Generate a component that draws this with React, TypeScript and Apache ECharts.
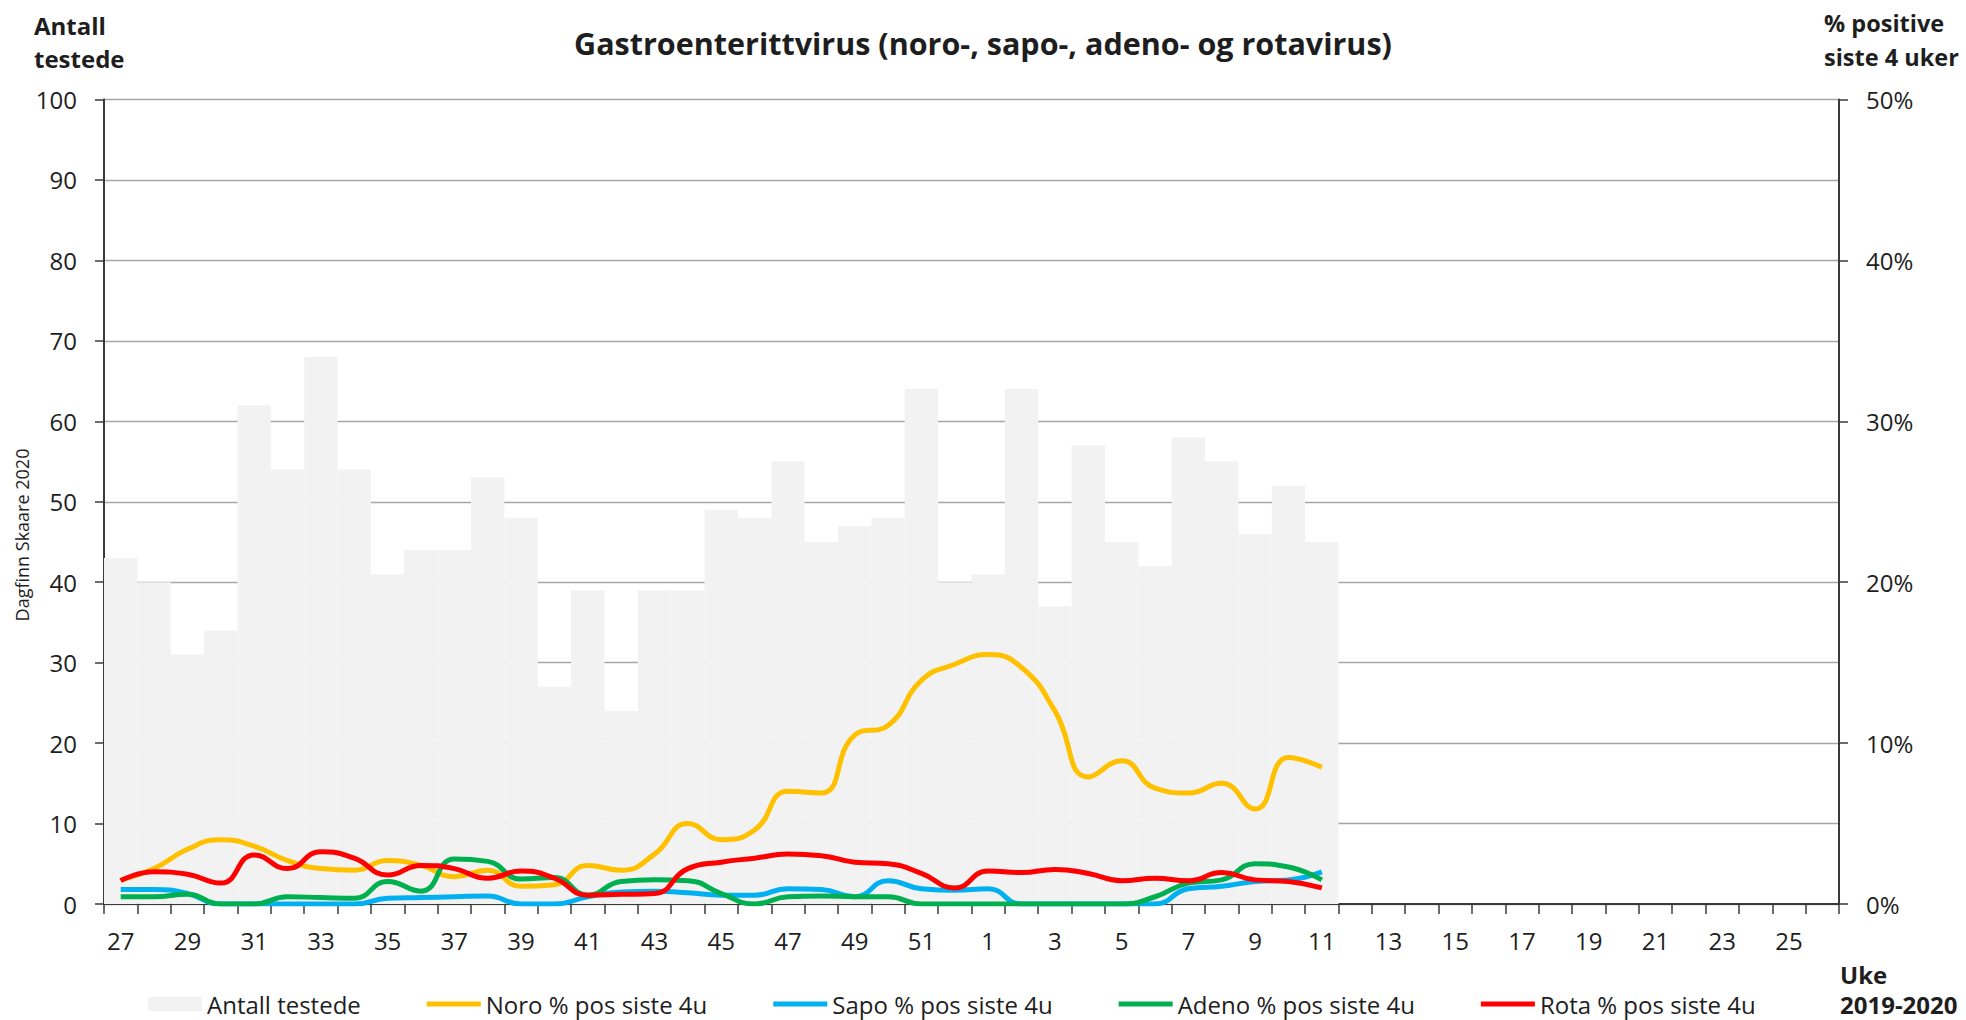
import React, { useEffect, useRef } from "react";
import * as echarts from "echarts";

// Week categories (2019 week 27 -> 2020 week 26)
const weeks = [
  "27", "28", "29", "30", "31", "32", "33", "34", "35", "36", "37", "38", "39",
  "40", "41", "42", "43", "44", "45", "46", "47", "48", "49", "50", "51", "52",
  "1", "2", "3", "4", "5", "6", "7", "8", "9", "10", "11", "12", "13",
  "14", "15", "16", "17", "18", "19", "20", "21", "22", "23", "24", "25", "26",
];

// Number tested per week (left axis)
const testedCounts = [
  43, 40, 31, 34, 62, 54, 68, 54, 41, 44, 44, 53, 48, 27, 39, 24, 39, 39, 49,
  48, 55, 45, 47, 48, 64, 40, 41, 64, 37, 57, 45, 42, 58, 55, 46, 52, 45,
];

// % positive last 4 weeks (right axis)
const noroPct = [
  1.5, 2.2, 3.4, 4.0, 3.6, 2.7, 2.2, 2.1, 2.7, 2.4, 1.7, 2.1, 1.1, 1.2, 2.4,
  2.1, 3.1, 5.0, 4.0, 4.6, 7.0, 6.9, 10.5, 11.1, 13.9, 14.9, 15.5, 14.7, 12.0,
  7.9, 8.9, 7.2, 6.9, 7.5, 5.9, 9.1, 8.5,
];
const sapoPct = [
  0.9, 0.9, 0.65, 0, 0, 0, 0, 0, 0.35, 0.4, 0.45, 0.5, 0, 0, 0.45, 0.75, 0.8,
  0.7, 0.55, 0.55, 0.95, 0.9, 0.45, 1.45, 0.95, 0.85, 0.95, 0, 0, 0, 0, 0,
  0.95, 1.1, 1.4, 1.5, 2.0,
];
const adenoPct = [
  0.45, 0.45, 0.6, 0, 0, 0.45, 0.4, 0.35, 1.4, 0.8, 2.8, 2.65, 1.55, 1.65,
  0.55, 1.4, 1.5, 1.45, 0.65, 0, 0.45, 0.5, 0.45, 0.45, 0, 0, 0, 0, 0, 0, 0,
  0.45, 1.3, 1.5, 2.5, 2.3, 1.5,
];
const rotaPct = [
  1.45, 2.0, 1.85, 1.3, 3.05, 2.2, 3.25, 2.85, 1.8, 2.4, 2.2, 1.6, 2.05, 1.6,
  0.55, 0.6, 0.65, 2.2, 2.6, 2.85, 3.1, 3.0, 2.6, 2.5, 1.9, 1.0, 2.05, 1.95,
  2.15, 1.9, 1.45, 1.6, 1.45, 1.95, 1.5, 1.4, 1.0,
];

const leftTicks = { min: 0, max: 100, interval: 10 };
const rightTicks = { min: 0, max: 50, interval: 10 };

const FONT = "'Open Sans'";
const TEXT = "#1e1e1e";
const AXIS = "#3a3a3a";
const LINE_ICON = "path://M0 0H54V5H0Z";

export default function App() {
  const ref = useRef<HTMLDivElement>(null);

  useEffect(() => {
    if (!ref.current) return;
    const chart = echarts.init(ref.current, undefined, { renderer: "svg" });

    const lineSeries = (name: string, data: number[], color: string) => ({
      type: "line",
      name,
      data,
      yAxisIndex: 1,
      smooth: true,
      symbol: "none",
      lineStyle: { color, width: 5 },
      itemStyle: { color },
      z: 3,
    });

    chart.setOption({
      animation: false,
      backgroundColor: "#ffffff",
      textStyle: { fontFamily: FONT },
      title: {
        text: "Gastroenterittvirus (noro-, sapo-, adeno- og rotavirus)",
        left: "center",
        top: 22,
        textStyle: {
          fontFamily: FONT,
          fontSize: 30.5,
          fontWeight: "bold",
          color: TEXT,
        },
      },
      grid: { left: 104, right: 127, top: 99.5, bottom: 116 },
      legend: {
        left: 148,
        top: 992,
        padding: 0,
        itemWidth: 54,
        itemHeight: 14,
        itemGap: 66,
        textStyle: { fontFamily: FONT, fontSize: 24, color: TEXT },
        data: [
          { name: "Antall testede", icon: "rect" },
          { name: "Noro % pos siste 4u", icon: LINE_ICON },
          { name: "Sapo % pos siste 4u", icon: LINE_ICON },
          { name: "Adeno % pos siste 4u", icon: LINE_ICON },
          { name: "Rota % pos siste 4u", icon: LINE_ICON },
        ],
      },
      xAxis: {
        type: "category",
        data: weeks,
        boundaryGap: true,
        axisLine: { show: true, lineStyle: { color: AXIS, width: 2 } },
        axisTick: {
          show: true,
          interval: 0,
          length: 10,
          lineStyle: { color: AXIS, width: 1.5 },
        },
        axisLabel: {
          interval: 1,
          margin: 24,
          fontSize: 24,
          color: TEXT,
          fontFamily: FONT,
        },
        splitLine: { show: false },
      },
      yAxis: [
        {
          type: "value",
          position: "left",
          ...leftTicks,
          axisLine: { show: true, lineStyle: { color: AXIS, width: 2 } },
          axisTick: {
            show: true,
            length: 9,
            lineStyle: { color: AXIS, width: 1.5 },
          },
          axisLabel: { margin: 27, fontSize: 24, color: TEXT, fontFamily: FONT },
          splitLine: { show: true, lineStyle: { color: "#a6a6a6", width: 1.3 } },
        },
        {
          type: "value",
          position: "right",
          ...rightTicks,
          axisLine: { show: true, lineStyle: { color: AXIS, width: 2 } },
          axisTick: {
            show: true,
            length: 9,
            lineStyle: { color: AXIS, width: 1.5 },
          },
          axisLabel: {
            margin: 27,
            fontSize: 24,
            color: TEXT,
            fontFamily: FONT,
            formatter: "{value}%",
          },
          splitLine: { show: false },
        },
      ],
      graphic: [
        {
          type: "text",
          x: 34,
          y: 41.5,
          style: {
            text: "Antall\ntestede",
            fill: TEXT,
            font: `bold 24px ${FONT}`,
            lineHeight: 33,
            textAlign: "left",
            textVerticalAlign: "middle",
          },
        },
        {
          type: "text",
          x: 1824,
          y: 40,
          style: {
            text: "% positive\nsiste 4 uker",
            fill: TEXT,
            font: `bold 23.5px ${FONT}`,
            lineHeight: 34,
            textAlign: "left",
            textVerticalAlign: "middle",
          },
        },
        {
          type: "text",
          x: 1840,
          y: 989,
          style: {
            text: "Uke\n2019-2020",
            fill: TEXT,
            font: `bold 24px ${FONT}`,
            lineHeight: 30,
            textAlign: "left",
            textVerticalAlign: "middle",
          },
        },
        {
          type: "text",
          x: 22,
          y: 535,
          rotation: Math.PI / 2,
          style: {
            text: "Dagfinn Skaare 2020",
            fill: TEXT,
            font: `18px ${FONT}`,
            textAlign: "center",
            textVerticalAlign: "middle",
          },
        },
      ],
      series: [
        {
          type: "bar",
          name: "Antall testede",
          data: testedCounts,
          yAxisIndex: 0,
          barCategoryGap: "0%",
          itemStyle: { color: "#f2f2f2" },
          z: 1,
        },
        lineSeries("Noro % pos siste 4u", noroPct, "#ffc000"),
        lineSeries("Sapo % pos siste 4u", sapoPct, "#00b0f0"),
        lineSeries("Adeno % pos siste 4u", adenoPct, "#00b050"),
        lineSeries("Rota % pos siste 4u", rotaPct, "#ff0000"),
      ],
    });

    return () => chart.dispose();
  }, []);

  return (
    <div
      ref={ref}
      style={{ position: "fixed", left: 0, top: 0, width: 1966, height: 1020 }}
    />
  );
}
